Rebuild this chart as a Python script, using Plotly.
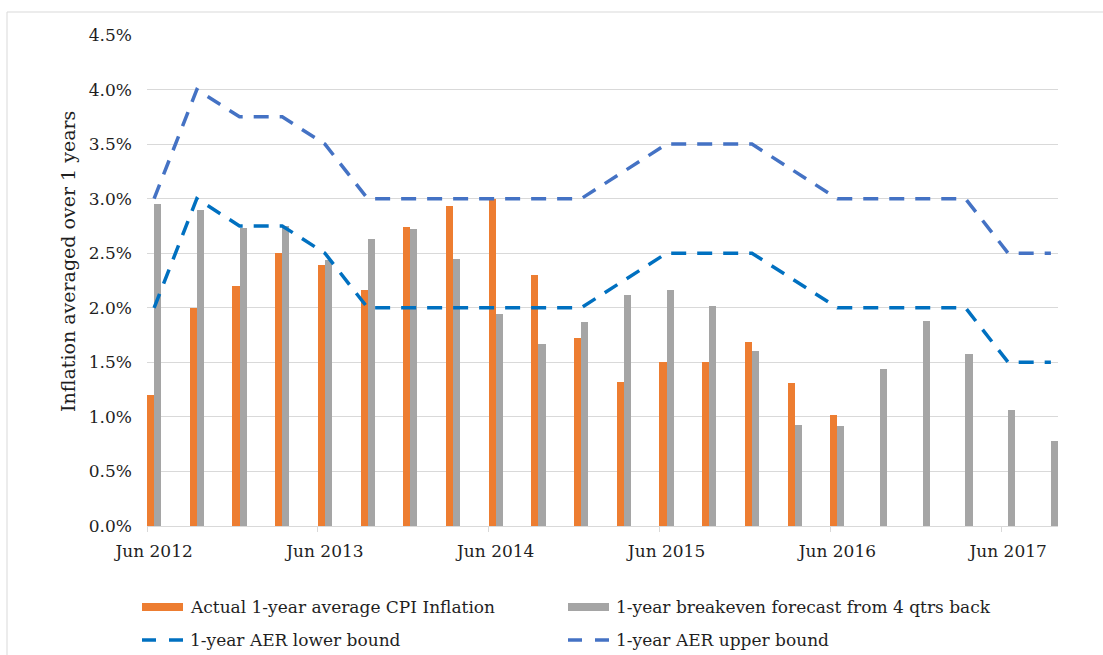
import plotly.graph_objects as go

# Quarterly observations, Jun 2012 .. Sep 2017
quarters = ["Jun 2012", "Sep 2012", "Dec 2012", "Mar 2013", "Jun 2013", "Sep 2013",
            "Dec 2013", "Mar 2014", "Jun 2014", "Sep 2014", "Dec 2014", "Mar 2015",
            "Jun 2015", "Sep 2015", "Dec 2015", "Mar 2016", "Jun 2016", "Sep 2016",
            "Dec 2016", "Mar 2017", "Jun 2017", "Sep 2017"]

# Actual 1-year average CPI inflation (%), available to Jun 2016
cpi_actual = [1.20, 2.00, 2.20, 2.50, 2.39, 2.16, 2.74, 2.93, 3.00, 2.30, 1.72,
              1.32, 1.50, 1.50, 1.69, 1.31, 1.02]

# 1-year breakeven forecast made 4 quarters earlier (%)
breakeven = [2.95, 2.90, 2.73, 2.75, 2.44, 2.63, 2.72, 2.45, 1.94, 1.67, 1.87,
             2.12, 2.16, 2.02, 1.60, 0.93, 0.92, 1.44, 1.88, 1.58, 1.06, 0.78]

# AER bounds (%)
aer_lower = [2.00, 3.00, 2.75, 2.75, 2.50, 2.00, 2.00, 2.00, 2.00, 2.00, 2.00,
             2.25, 2.50, 2.50, 2.50, 2.25, 2.00, 2.00, 2.00, 2.00, 1.50, 1.50]
aer_upper = [3.00, 4.00, 3.75, 3.75, 3.50, 3.00, 3.00, 3.00, 3.00, 3.00, 3.00,
             3.25, 3.50, 3.50, 3.50, 3.25, 3.00, 3.00, 3.00, 3.00, 2.50, 2.50]

y_ticks = [0.0, 0.5, 1.0, 1.5, 2.0, 2.5, 3.0, 3.5, 4.0, 4.5]

MONTHS = {"Mar": 3, "Jun": 6, "Sep": 9, "Dec": 12}


def month_index(label):
    mon, yr = label.split()
    return (int(yr) - 2012) * 12 + MONTHS[mon] - 6


xm = [month_index(q) for q in quarters]
n_months = xm[-1] + 1

ORANGE = "#ED7D31"
GRAY = "#A5A5A5"
LOWER = "#0070C0"
UPPER = "#4472C4"
GRID = "#D9D9D9"
TEXT = "#1F1F1F"
FONT = "DejaVu Serif, serif"
DASH = "15px,11px"

fig = go.Figure()
fig.add_trace(go.Bar(x=xm[:len(cpi_actual)], y=cpi_actual, width=0.5, offset=-0.5,
                     marker=dict(color=ORANGE, line=dict(width=0)),
                     name="Actual 1-year average CPI Inflation", showlegend=False))
fig.add_trace(go.Bar(x=xm, y=breakeven, width=0.5, offset=0.0,
                     marker=dict(color=GRAY, line=dict(width=0)),
                     name="1-year breakeven forecast from 4 qtrs back", showlegend=False))
fig.add_trace(go.Scatter(x=xm, y=aer_lower, mode="lines",
                         line=dict(color=LOWER, width=3.5, dash=DASH),
                         name="1-year AER lower bound", showlegend=False))
fig.add_trace(go.Scatter(x=xm, y=aer_upper, mode="lines",
                         line=dict(color=UPPER, width=3.5, dash=DASH),
                         name="1-year AER upper bound", showlegend=False))

# plot-area geometry in pixels
W, H = 1103, 655
L, R, T, B = 147, 45, 35, 129
PW, PH = W - L - R, H - T - B


def px(xp):
    return (xp - L) / PW


def py(yp):
    return (H - B - yp) / PH


shapes = []
# outer chart frame
shapes.append(dict(type="rect", xref="paper", yref="paper",
                   x0=px(7), x1=px(1110), y0=py(12), y1=py(662),
                   line=dict(color=GRID, width=1), fillcolor="rgba(0,0,0,0)",
                   layer="below"))

# manual legend: swatches + labels
legend_items = [
    ("Actual 1-year average CPI Inflation", ORANGE, "bar", 142, 607),
    ("1-year breakeven forecast from 4 qtrs back", GRAY, "bar", 568, 607),
    ("1-year AER lower bound", LOWER, "line", 142, 640),
    ("1-year AER upper bound", UPPER, "line", 568, 640),
]
annotations = []
for label, color, kind, x0, yc in legend_items:
    if kind == "bar":
        shapes.append(dict(type="rect", xref="paper", yref="paper",
                           x0=px(x0), x1=px(x0 + 41), y0=py(yc - 4), y1=py(yc + 4),
                           fillcolor=color, line=dict(width=0)))
    else:
        for a, b in ((x0, x0 + 14), (x0 + 27, x0 + 41)):
            shapes.append(dict(type="line", xref="paper", yref="paper",
                               x0=px(a), x1=px(b), y0=py(yc), y1=py(yc),
                               line=dict(color=color, width=3.5)))
    annotations.append(dict(text=label, xref="paper", yref="paper",
                            x=px(x0 + 46), y=py(yc), xanchor="left", yanchor="middle",
                            showarrow=False, font=dict(family=FONT, size=17, color=TEXT)))

# y-axis title, placed as a rotated annotation
annotations.append(dict(text="Inflation averaged over 1 years", xref="paper", yref="paper",
                        x=px(68), y=py(262), xanchor="center", yanchor="middle",
                        textangle=-90, showarrow=False,
                        font=dict(family=FONT, size=19, color=TEXT)))

label_pos = [m for m, q in zip(xm, quarters) if q.startswith("Jun")]
label_txt = [q for q in quarters if q.startswith("Jun")]

fig.update_layout(
    width=W, height=H,
    margin=dict(l=L, r=R, t=T, b=B),
    paper_bgcolor="white", plot_bgcolor="white",
    barmode="overlay", bargap=0,
    font=dict(family=FONT, size=17, color=TEXT),
    shapes=shapes, annotations=annotations,
    showlegend=False,
    xaxis=dict(range=[-0.5, n_months - 0.5], tickmode="array",
               tickvals=label_pos, ticktext=label_txt, ticks="",
               showgrid=False, zeroline=False,
               showline=True, linecolor=GRID, linewidth=1,
               ticklabelstandoff=10,
               tickfont=dict(family=FONT, size=17, color=TEXT),
               minor=dict(tickmode="linear", tick0=-0.5, dtick=12, ticks="outside",
                          ticklen=5, tickcolor=GRID, showgrid=False)),
    yaxis=dict(range=[0, 4.5], tickmode="array", tickvals=y_ticks,
               ticktext=[f"{v:.1f}%" for v in y_ticks],
               showgrid=True, gridcolor=GRID, gridwidth=1, zeroline=False,
               showline=False, ticks="", ticklabelstandoff=14,
               tickfont=dict(family=FONT, size=17, color=TEXT)),
)

fig.write_html("out.html")
